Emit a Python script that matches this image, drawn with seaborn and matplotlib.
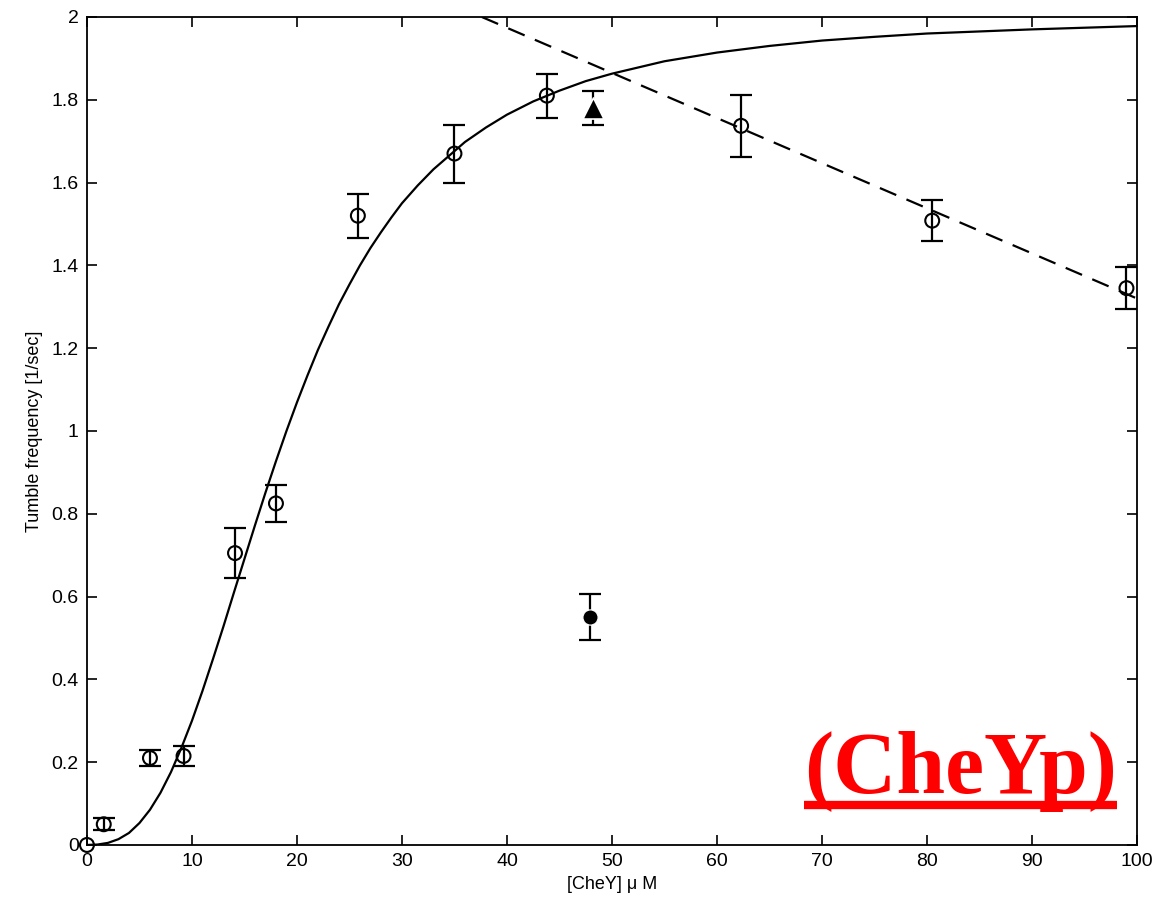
import numpy as np
import pandas as pd
import matplotlib
matplotlib.use("Agg")
import matplotlib.pyplot as plt
import seaborn as sns

# measured points (open circles)
cheY = [0, 1.6, 6.0, 9.2, 14.1, 18.0, 25.8, 35.0, 43.8, 62.3, 80.5, 99.0]
tumble = [0.0, 0.05, 0.21, 0.215, 0.705, 0.825, 1.52, 1.67, 1.81, 1.737, 1.508, 1.345]
tumble_err = [0.0, 0.015, 0.02, 0.025, 0.06, 0.045, 0.053, 0.07, 0.053, 0.075, 0.05, 0.05]

# special points
tri_x, tri_y, tri_err = [48.2], [1.78], [0.04]
dot_x, dot_y, dot_err = [47.9], [0.55], [0.055]

# fitted curve
fit_x = [0, 1, 2, 3, 4, 5, 6, 7, 8, 9, 10, 11, 12, 13, 14, 15, 16, 17, 18, 19,
         20, 21, 22, 23, 24, 25, 26, 27, 28, 29, 30, 31.5, 33, 36, 38, 40,
         42.5, 45, 47.5, 50, 55, 60, 65, 70, 75, 80, 90, 100]
fit_y = [0.0, 0.001, 0.005, 0.014, 0.029, 0.053, 0.085, 0.126, 0.176, 0.235,
         0.30, 0.372, 0.449, 0.528, 0.610, 0.691, 0.772, 0.851, 0.927, 1.0,
         1.069, 1.134, 1.196, 1.252, 1.306, 1.354, 1.400, 1.442, 1.480, 1.516,
         1.55, 1.593, 1.632, 1.698, 1.733, 1.764, 1.796, 1.822, 1.845, 1.863,
         1.893, 1.914, 1.930, 1.943, 1.952, 1.960, 1.970, 1.978]

# dashed line ends
dash_x = [37.6, 100]
dash_y = [2.0, 1.32]

sns.set_style("ticks")
plt.rcParams['font.family'] = ['Liberation Sans', 'DejaVu Sans']

fig = plt.figure(figsize=(11.61, 9.07), dpi=100)
ax = fig.add_axes([0.0749, 0.0684, 0.9044, 0.9129])

fit = pd.DataFrame({"x": fit_x, "y": fit_y})
sns.lineplot(data=fit, x="x", y="y", color="black", lw=1.6, ax=ax)
sns.lineplot(x=dash_x, y=dash_y, color="black", lw=1.6, ax=ax,
             linestyle=(0, (8, 5)))

ax.errorbar(cheY[1:], tumble[1:], yerr=tumble_err[1:], fmt="none",
            ecolor="black", elinewidth=1.6, capsize=8, capthick=1.6)
ax.errorbar(tri_x, tri_y, yerr=tri_err, fmt="none", ecolor="black",
            elinewidth=1.6, capsize=8, capthick=1.6)
ax.errorbar(dot_x, dot_y, yerr=dot_err, fmt="none", ecolor="black",
            elinewidth=1.6, capsize=8, capthick=1.6)

sns.scatterplot(x=cheY, y=tumble, marker="o", s=100, facecolor="none",
                edgecolor="black", linewidth=1.5, ax=ax, clip_on=False, zorder=5)
sns.scatterplot(x=tri_x, y=tri_y, marker="^", s=230, color="black",
                ax=ax, zorder=5)
sns.scatterplot(x=dot_x, y=dot_y, marker="o", s=120, color="black",
                ax=ax, zorder=5)

ax.set_xlim(0, 100)
ax.set_ylim(0, 2)
ax.set_xticks(range(0, 101, 10))
ax.set_yticks([0, 0.2, 0.4, 0.6, 0.8, 1, 1.2, 1.4, 1.6, 1.8, 2])
ax.set_yticklabels(["0", "0.2", "0.4", "0.6", "0.8", "1", "1.2", "1.4",
                    "1.6", "1.8", "2"])
ax.tick_params(direction="in", top=True, right=True, length=7, width=1.2,
               labelsize=14, colors="black", labelcolor="black", pad=6)
for s in ax.spines.values():
    s.set_linewidth(1.3)
    s.set_color("black")

ax.set_xlabel("[CheY] \u03bc M", fontsize=13, labelpad=4, color="black")
ax.set_ylabel("Tumble frequency [1/sec]", fontsize=13, labelpad=6, color="black")

# red underlined label
ax.text(0.832, 0.063, "(CheYp)", transform=ax.transAxes, ha="center",
        va="baseline", color="red", fontsize=63, fontweight="bold",
        family=["Liberation Serif", "DejaVu Serif"])
ax.plot([0.683, 0.981], [0.048, 0.048], transform=ax.transAxes, color="red",
        lw=6, solid_capstyle="butt", clip_on=False)

fig.savefig("out.png", dpi=100)
